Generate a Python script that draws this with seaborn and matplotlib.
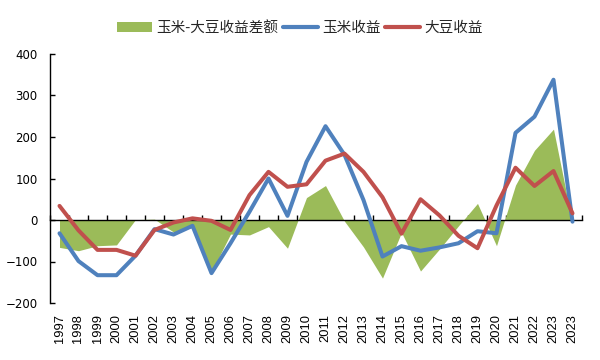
import numpy as np
import pandas as pd
import matplotlib
matplotlib.use("Agg")
import matplotlib.pyplot as plt
import seaborn as sns
from matplotlib.patches import Patch
from matplotlib.lines import Line2D
from matplotlib.ticker import FixedLocator, FixedFormatter

years = [str(y) for y in range(1997, 2024)] + ["2023"]
corn = [-32, -99, -133, -133, -86, -22, -35, -14, -128, -56, 20, 100, 10, 140,
        226, 157, 48, -88, -63, -74, -66, -56, -27, -32, 210, 249, 338, -4]
soy = [34, -25, -72, -72, -86, -24, -6, 4, -2, -24, 60, 116, 80, 86,
       143, 160, 116, 55, -33, 50, 11, -38, -68, 35, 126, 82, 118, 16]
diff = [-66, -74, -62, -60, 1, 2, -29, -18, -125, -34, -36, -16, -68, 54,
        83, -3, -65, -140, -30, -123, -70, -14, 40, -62, 84, 168, 219, -8]
labels = ["玉米-大豆收益差额", "玉米收益", "大豆收益"]
yticks = [-200, -100, 0, 100, 200, 300, 400]

GREEN, BLUE, RED = "#9BBB59", "#4F81BD", "#C0504D"

sns.set_theme(style="white")
plt.rcParams["font.family"] = ["Noto Sans CJK SC", "DejaVu Sans"]

df = pd.DataFrame({"pos": np.arange(len(years)), "year": years,
                   "corn": corn, "soy": soy, "diff": diff})

fig = plt.figure(figsize=(6, 3.6), dpi=100)
ax = fig.add_axes([50 / 600, 1 - 303 / 360, 532 / 600, 249 / 360])

ax.fill_between(df["pos"], 0, df["diff"], color=GREEN, lw=0, zorder=1)
sns.lineplot(data=df, x="pos", y="corn", color=BLUE, lw=2.9, ax=ax, legend=False, zorder=3)
sns.lineplot(data=df, x="pos", y="soy", color=RED, lw=2.9, ax=ax, legend=False, zorder=4)

ax.set_xlim(-0.5, len(years) - 0.5)
ax.set_ylim(-200, 400)
ax.set_xlabel("")
ax.set_ylabel("")

for s in ["top", "right"]:
    ax.spines[s].set_visible(False)
ax.spines["left"].set_color("black")
ax.spines["left"].set_linewidth(1)
ax.spines["bottom"].set_position(("data", 0))
ax.spines["bottom"].set_color("black")
ax.spines["bottom"].set_linewidth(1)
ax.spines["bottom"].set_zorder(2)

ax.xaxis.set_major_locator(FixedLocator(df["pos"].tolist()))
ax.xaxis.set_major_formatter(FixedFormatter(years))
ax.xaxis.set_minor_locator(FixedLocator(list(np.arange(len(years) + 1) - 0.5)))
ax.tick_params(axis="x", which="major", length=0, pad=68, labelrotation=90,
               labelsize=9.3, labelcolor="black")
ax.tick_params(axis="x", which="minor", direction="in", length=3.6, width=1,
               color="black", bottom=True)
for t in ax.get_xticklabels():
    t.set_fontfamily(["Liberation Sans", "DejaVu Sans"])

ax.set_yticks(yticks)
ax.tick_params(axis="y", which="major", direction="in", length=3.6, width=1,
               color="black", left=True, labelsize=8.5, pad=9, labelcolor="black")
for t in ax.get_yticklabels():
    t.set_fontfamily(["DejaVu Sans"])

handles = [Patch(facecolor=GREEN, edgecolor="none"),
           Line2D([], [], color=BLUE, lw=3),
           Line2D([], [], color=RED, lw=3)]
fig.legend(handles, labels, loc="center", bbox_to_anchor=(0.5, 1 - 28 / 360),
           ncol=3, frameon=False, fontsize=10.5, handlelength=2.4,
           handletextpad=0.3, columnspacing=0.3, borderaxespad=0)

fig.savefig("out.png", dpi=100)
